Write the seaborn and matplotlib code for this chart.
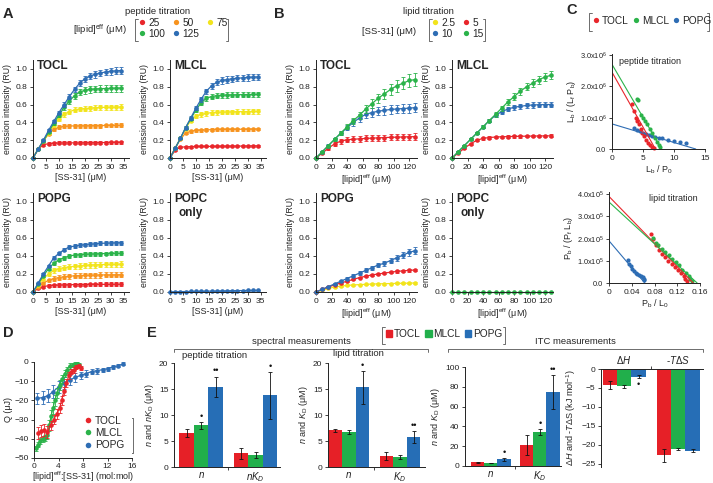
import numpy as np
import pandas as pd
import matplotlib
matplotlib.use('Agg')
import matplotlib.pyplot as plt
import seaborn as sns
from matplotlib.lines import Line2D
from matplotlib.patches import Patch
from matplotlib.container import BarContainer
from matplotlib.ticker import FormatStrFormatter, FuncFormatter

# ------------------------------------------------------------------ DATA
# Panel A (peptide titration): x = [SS-31] (uM)
A_x = [0, 2, 4, 6, 8, 10, 12, 14, 16, 18, 20, 22, 24, 26, 28, 30, 32, 34]
A_levels = ['25', '50', '75', '100', '125']
A_TOCL = {
    '25':  [0, 0.10, 0.15, 0.16, 0.165, 0.17, 0.17, 0.17, 0.17, 0.17, 0.172, 0.172, 0.172, 0.173, 0.173, 0.174, 0.174, 0.175],
    '50':  [0, 0.10, 0.19, 0.27, 0.32, 0.345, 0.355, 0.36, 0.36, 0.362, 0.362, 0.363, 0.364, 0.364, 0.365, 0.365, 0.366, 0.366],
    '75':  [0, 0.10, 0.19, 0.28, 0.37, 0.44, 0.49, 0.52, 0.54, 0.55, 0.555, 0.56, 0.565, 0.567, 0.569, 0.57, 0.571, 0.572],
    '100': [0, 0.10, 0.19, 0.29, 0.39, 0.48, 0.57, 0.64, 0.70, 0.74, 0.76, 0.77, 0.775, 0.778, 0.78, 0.782, 0.784, 0.785],
    '125': [0, 0.10, 0.20, 0.31, 0.41, 0.51, 0.60, 0.69, 0.77, 0.84, 0.89, 0.92, 0.94, 0.955, 0.965, 0.973, 0.978, 0.982],
}
A_MLCL = {
    '25':  [0, 0.09, 0.12, 0.125, 0.128, 0.13, 0.13, 0.13, 0.13, 0.131, 0.132, 0.132, 0.133, 0.133, 0.134, 0.134, 0.135, 0.135],
    '50':  [0, 0.11, 0.21, 0.28, 0.30, 0.31, 0.313, 0.316, 0.318, 0.32, 0.32, 0.321, 0.322, 0.322, 0.323, 0.323, 0.324, 0.325],
    '75':  [0, 0.11, 0.22, 0.33, 0.42, 0.47, 0.49, 0.50, 0.51, 0.513, 0.515, 0.517, 0.518, 0.52, 0.52, 0.521, 0.522, 0.523],
    '100': [0, 0.11, 0.22, 0.34, 0.44, 0.54, 0.62, 0.67, 0.69, 0.70, 0.705, 0.707, 0.709, 0.71, 0.711, 0.712, 0.713, 0.714],
    '125': [0, 0.11, 0.22, 0.34, 0.45, 0.56, 0.66, 0.75, 0.81, 0.85, 0.87, 0.88, 0.89, 0.895, 0.90, 0.905, 0.908, 0.91],
}
A_POPG = {
    '25':  [0, 0.04, 0.06, 0.07, 0.075, 0.078, 0.08, 0.081, 0.082, 0.083, 0.083, 0.084, 0.084, 0.085, 0.085, 0.085, 0.086, 0.086],
    '50':  [0, 0.06, 0.10, 0.13, 0.15, 0.16, 0.17, 0.175, 0.18, 0.182, 0.185, 0.187, 0.188, 0.189, 0.19, 0.19, 0.191, 0.192],
    '75':  [0, 0.08, 0.15, 0.20, 0.24, 0.26, 0.27, 0.28, 0.285, 0.29, 0.295, 0.30, 0.302, 0.304, 0.306, 0.307, 0.308, 0.309],
    '100': [0, 0.09, 0.18, 0.26, 0.32, 0.36, 0.38, 0.40, 0.41, 0.415, 0.42, 0.422, 0.424, 0.426, 0.427, 0.428, 0.429, 0.43],
    '125': [0, 0.10, 0.20, 0.29, 0.38, 0.43, 0.47, 0.50, 0.51, 0.52, 0.527, 0.532, 0.536, 0.54, 0.543, 0.545, 0.547, 0.548],
}
A_POPC = {
    '125': [0, 0.002, 0.004, 0.005, 0.006, 0.007, 0.008, 0.009, 0.010, 0.011, 0.012, 0.013, 0.014, 0.015, 0.016, 0.017, 0.018, 0.019],
}
A_err = {'TOCL': {'25': 0.10, '50': 0.06, '75': 0.05, '100': 0.05, '125': 0.04},
         'MLCL': {'25': 0.08, '50': 0.05, '75': 0.05, '100': 0.04, '125': 0.04},
         'POPG': {'25': 0.25, '50': 0.15, '75': 0.10, '100': 0.05, '125': 0.04},
         'POPC': {'125': 0.2}}

# Panel B (lipid titration): x = [lipid]eff (uM)
B_x = [0, 8, 16, 24, 32, 40, 48, 56, 64, 72, 80, 88, 96, 104, 112, 120, 128]
B_TOCL = {
    '5':  [0, 0.055, 0.11, 0.16, 0.19, 0.205, 0.21, 0.215, 0.22, 0.223, 0.226, 0.229, 0.232, 0.234, 0.236, 0.238, 0.24],
    '10': [0, 0.07, 0.14, 0.21, 0.28, 0.34, 0.40, 0.45, 0.49, 0.51, 0.525, 0.535, 0.545, 0.55, 0.555, 0.56, 0.565],
    '15': [0, 0.07, 0.14, 0.21, 0.28, 0.35, 0.42, 0.48, 0.55, 0.61, 0.67, 0.72, 0.77, 0.81, 0.84, 0.87, 0.88],
}
B_MLCL = {
    '5':  [0, 0.055, 0.11, 0.16, 0.20, 0.22, 0.23, 0.235, 0.238, 0.24, 0.242, 0.244, 0.245, 0.246, 0.247, 0.248, 0.249],
    '10': [0, 0.07, 0.14, 0.21, 0.28, 0.35, 0.42, 0.48, 0.52, 0.55, 0.57, 0.58, 0.59, 0.595, 0.598, 0.60, 0.60],
    '15': [0, 0.07, 0.14, 0.21, 0.28, 0.35, 0.42, 0.49, 0.56, 0.63, 0.69, 0.75, 0.80, 0.84, 0.88, 0.91, 0.93],
}
B_POPG = {
    '2.5': [0, 0.02, 0.04, 0.055, 0.065, 0.073, 0.078, 0.082, 0.085, 0.088, 0.09, 0.092, 0.094, 0.096, 0.097, 0.098, 0.10],
    '5':   [0, 0.03, 0.055, 0.08, 0.10, 0.12, 0.14, 0.16, 0.175, 0.19, 0.20, 0.21, 0.22, 0.228, 0.235, 0.24, 0.245],
    '10':  [0, 0.03, 0.06, 0.09, 0.12, 0.15, 0.18, 0.21, 0.24, 0.27, 0.30, 0.32, 0.35, 0.38, 0.41, 0.44, 0.46],
}
B_POPC = {
    '15': [0, 0, 0, 0, 0, 0, 0, 0, 0, 0, 0, 0, 0, 0, 0, 0, 0],
}
B_err = {'TOCL': {'5': 0.15, '10': 0.09, '15': 0.08},
         'MLCL': {'5': 0.06, '10': 0.05, '15': 0.05},
         'POPG': {'2.5': 0.1, '5': 0.06, '10': 0.09},
         'POPC': {'15': 0.0}}

# Panel C: Scatchard plots
Cp_TOCL_x = [3.3, 3.6, 3.9, 4.1, 4.3, 4.6, 4.9, 5.2, 5.5, 5.8, 6.1, 6.4, 6.7]
Cp_TOCL_y = [1.42e6, 1.2e6, 1.0e6, 0.9e6, 0.8e6, 0.65e6, 0.52e6, 0.4e6, 0.3e6, 0.2e6, 0.12e6, 0.06e6, 0.02e6]
Cp_MLCL_x = [4.0, 4.2, 4.6, 5.0, 5.3, 5.7, 6.1, 6.5, 6.9, 7.3, 7.6, 7.8]
Cp_MLCL_y = [1.6e6, 1.55e6, 1.1e6, 1.0e6, 0.9e6, 0.8e6, 0.65e6, 0.5e6, 0.35e6, 0.22e6, 0.12e6, 0.05e6]
Cp_POPG_x = [3.5, 4.0, 4.5, 5.0, 5.5, 6.0, 6.5, 7.0, 7.5, 8.0, 9.0, 10.0, 11.0, 12.0]
Cp_POPG_y = [0.68e6, 0.62e6, 0.57e6, 0.52e6, 0.47e6, 0.44e6, 0.42e6, 0.39e6, 0.36e6, 0.34e6, 0.3e6, 0.27e6, 0.22e6, 0.18e6]
Cp_fit = {'TOCL': (2.45e6, 7.0), 'MLCL': (2.7e6, 8.0), 'POPG': (0.8e6, 13.5)}

Cl_TOCL_x = [0.074, 0.078, 0.083, 0.088, 0.093, 0.098, 0.104, 0.110, 0.116, 0.122, 0.127, 0.131, 0.134, 0.137]
Cl_TOCL_y = [2.2e5, 2.0e5, 1.7e5, 1.5e5, 1.3e5, 1.15e5, 1.0e5, 0.85e5, 0.72e5, 0.6e5, 0.45e5, 0.3e5, 0.2e5, 0.1e5]
Cl_MLCL_x = [0.078, 0.082, 0.087, 0.093, 0.099, 0.105, 0.111, 0.117, 0.123, 0.129, 0.135, 0.140, 0.143, 0.146]
Cl_MLCL_y = [2.05e5, 1.8e5, 1.7e5, 1.55e5, 1.4e5, 1.25e5, 1.1e5, 0.95e5, 0.8e5, 0.6e5, 0.45e5, 0.3e5, 0.2e5, 0.1e5]
Cl_POPG_x = [0.034, 0.036, 0.038, 0.041, 0.044, 0.047, 0.050, 0.053, 0.056, 0.059, 0.061, 0.062]
Cl_POPG_y = [1.05e5, 0.85e5, 0.75e5, 0.65e5, 0.55e5, 0.45e5, 0.4e5, 0.35e5, 0.3e5, 0.25e5, 0.2e5, 0.15e5]
Cl_fit = {'TOCL': (3.9e5, 0.148), 'MLCL': (3.65e5, 0.155), 'POPG': (1.9e5, 0.063)}

# Panel D: ITC
D_TOCL_x = [0.7, 1.2, 1.7, 2.2, 2.7, 3.2, 3.7, 4.2, 4.5, 4.9, 5.3, 5.7, 6.1, 6.5, 6.9, 7.3, 7.6]
D_TOCL_y = [-37, -36, -35.5, -36.5, -33, -30, -27, -24, -20, -15, -11, -7, -5, -4, -2.5, -2, -3]
D_TOCL_e = [3, 3, 3, 3, 2.5, 2.5, 2.5, 2.5, 2.5, 2, 2, 2, 1.5, 1.5, 1, 1, 1]
D_MLCL_x = [0.3, 0.6, 1.0, 1.4, 1.8, 2.2, 2.5, 2.8, 3.1, 3.4, 3.8, 4.2, 4.6, 5.0, 5.4, 5.8, 6.3, 6.7, 7.1, 7.4]
D_MLCL_y = [-45, -43, -41, -40, -39.5, -38, -33, -28, -24, -20, -16, -12, -9, -6, -4, -2, -1.5, -1, -0.5, -1.5]
D_MLCL_e = [1.5, 1.5, 1.5, 1.5, 1.5, 2, 3, 3, 3, 3, 2.5, 2.5, 2, 2, 1.5, 1.5, 1, 1, 1, 1]
D_POPG_x = [0.5, 1.4, 2.3, 3.1, 4.0, 4.9, 5.8, 6.7, 7.6, 8.5, 9.4, 10.3, 11.2, 12.0, 12.9, 13.7, 14.5]
D_POPG_y = [-19, -18.5, -17.5, -15.5, -13, -11, -9.5, -8, -7, -6, -5, -4.5, -4, -3.5, -2.5, -2, -1]
D_POPG_e = [3, 3.5, 3.5, 3.5, 3, 3, 2.5, 2.5, 2, 2, 1.5, 1.5, 1, 1, 1, 0.8, 0.8]

# Panel E: bar charts
E_lipids = ['TOCL', 'MLCL', 'POPG']
E_pep_n = [6.5, 8.0, 15.4];     E_pep_n_err = [0.8, 0.7, 2.0]
E_pep_nKD = [2.6, 2.3, 13.8];   E_pep_nKD_err = [1.0, 0.6, 4.5]
E_lip_n = [7.1, 6.7, 15.3];     E_lip_n_err = [0.3, 0.4, 3.2]
E_lip_KD = [2.1, 2.0, 5.8];     E_lip_KD_err = [0.8, 0.4, 1.1]
E_itc_n = [4.0, 3.0, 7.0];      E_itc_n_err = [0.5, 0.3, 1.5]
E_itc_KD = [21, 34, 75];        E_itc_KD_err = [10, 3, 17]
E_dH = [-4.2, -4.6, -2.0];      E_dH_err = [1.0, 0.3, 0.4]
E_TdS = [-22.7, -21.0, -21.5];  E_TdS_err = [1.7, 0.3, 0.4]

# ------------------------------------------------------------------ STYLE
W, H = 713, 483
sns.set_theme(style='ticks')
plt.rcParams['font.family'] = ['Liberation Sans', 'DejaVu Sans']
plt.rcParams['mathtext.fontset'] = 'custom'
plt.rcParams['mathtext.rm'] = 'Liberation Sans'
plt.rcParams['mathtext.it'] = 'Liberation Sans:italic'
plt.rcParams['mathtext.bf'] = 'Liberation Sans:bold'
plt.rcParams['axes.linewidth'] = 0.7
plt.rcParams['xtick.major.width'] = 0.6
plt.rcParams['ytick.major.width'] = 0.6
plt.rcParams['xtick.major.size'] = 2.5
plt.rcParams['ytick.major.size'] = 2.5
plt.rcParams['axes.edgecolor'] = '#222222'

RED, ORANGE, YELLOW, GREEN, BLUE = '#e8262b', '#f7931e', '#f2e41c', '#2bb34a', '#2e6db4'
A_col = {'25': RED, '50': ORANGE, '75': YELLOW, '100': GREEN, '125': BLUE}
B_col = {'2.5': YELLOW, '5': RED, '10': BLUE, '15': GREEN}
L_col = {'TOCL': RED, 'MLCL': GREEN, 'POPG': BLUE}
TS, LS = 6.0, 6.5

fig = plt.figure(figsize=(W / 100, H / 100), dpi=100)


def add_ax(l, t, r, b):
    return fig.add_axes([l / W, 1 - b / H, (r - l) / W, (b - t) / H])


def base_style(ax):
    sns.despine(ax=ax)
    ax.tick_params(labelsize=TS, pad=1.5, colors='#222222')


def curve_panel(ax, x, series, colors, rel, order, xlim, xticks, xlabel, title):
    for k in order:
        if k not in series:
            continue
        y = np.array(series[k])
        ax.errorbar(x, y, yerr=rel[k] * y, fmt='none', ecolor=colors[k],
                    elinewidth=0.6, capsize=1.2, capthick=0.6, clip_on=False)
        sns.lineplot(x=x, y=y, ax=ax, color=colors[k], marker='o', markersize=3.3,
                     markeredgewidth=0, linewidth=0.9, legend=False, clip_on=False)
    ax.set_xlim(*xlim)
    ax.set_ylim(0, 1.1)
    ax.set_xticks(xticks)
    ax.set_yticks([0, 0.2, 0.4, 0.6, 0.8, 1.0])
    ax.yaxis.set_major_formatter(FormatStrFormatter('%.1f'))
    ax.set_ylabel('emission intensity (RU)', fontsize=LS - 0.2, labelpad=2.5)
    ax.set_xlabel(xlabel, fontsize=LS, labelpad=1.5)
    base_style(ax)
    ax.text(0.04, 1.0, title, transform=ax.transAxes, ha='left', va='top',
            fontsize=8.5, fontweight='bold', multialignment='center')


# overlay for annotations
ov = fig.add_axes([0, 0, 1, 1], zorder=-1)
ov.set_xlim(0, W)
ov.set_ylim(H, 0)
ov.axis('off')

# ------------------------------------------------------------------ PANEL A
A_xt = [0, 5, 10, 15, 20, 25, 30, 35]
A_xlabel = '[SS-31] (μM)'
for (l, t, r, b), data, name, title in [
        ((33, 60, 129, 158), A_TOCL, 'TOCL', 'TOCL'),
        ((170, 60, 266, 158), A_MLCL, 'MLCL', 'MLCL'),
        ((33, 193, 129, 292), A_POPG, 'POPG', 'POPG'),
        ((170, 193, 266, 292), A_POPC, 'POPC', 'POPC\nonly')]:
    ax = add_ax(l, t, r, b)
    curve_panel(ax, A_x, data, A_col, A_err[name], A_levels, (0, 37), A_xt, A_xlabel, title)

# ------------------------------------------------------------------ PANEL B
B_xt = [0, 20, 40, 60, 80, 100, 120]
B_xlabel = '[lipid]$^{\\rm eff}$ (μM)'
B_order = ['2.5', '5', '10', '15']
for (l, t, r, b), data, name, title in [
        ((316, 60, 417, 158), B_TOCL, 'TOCL', 'TOCL'),
        ((452, 60, 553, 158), B_MLCL, 'MLCL', 'MLCL'),
        ((316, 193, 417, 292), B_POPG, 'POPG', 'POPG'),
        ((452, 193, 553, 292), B_POPC, 'POPC', 'POPC\nonly')]:
    ax = add_ax(l, t, r, b)
    curve_panel(ax, B_x, data, B_col, B_err[name], B_order, (0, 130), B_xt, B_xlabel, title)

# ------------------------------------------------------------------ PANEL C
def sci_fmt(exp):
    def f(v, pos):
        if v == 0:
            return '0.0'
        return '%.1fx10$^{%d}$' % (v / 10 ** exp, exp)
    return FuncFormatter(f)


axc1 = add_ax(612, 54, 705, 149)
for nm, xs, ys in [('POPG', Cp_POPG_x, Cp_POPG_y), ('TOCL', Cp_TOCL_x, Cp_TOCL_y), ('MLCL', Cp_MLCL_x, Cp_MLCL_y)]:
    yint, xint = Cp_fit[nm]
    sns.lineplot(x=[0, xint], y=[yint, 0], ax=axc1, color=L_col[nm], linewidth=0.8, legend=False)
    sns.scatterplot(x=xs, y=ys, ax=axc1, color=L_col[nm], s=9, linewidth=0, legend=False, clip_on=False)
axc1.set_xlim(0, 15)
axc1.set_ylim(0, 3.03e6)
axc1.set_xticks([0, 5, 10, 15])
axc1.set_yticks([0, 1e6, 2e6, 3e6])
axc1.yaxis.set_major_formatter(sci_fmt(6))
axc1.set_xlabel('L$_{\\rm b}$ / P$_{\\rm 0}$', fontsize=LS, labelpad=1.5)
axc1.set_ylabel('L$_{\\rm b}$ / (L$_{\\rm f}$ P$_{\\rm b}$)', fontsize=LS, labelpad=1)
base_style(axc1)
axc1.tick_params(axis='y', labelsize=5.3)
axc1.text(0.07, 0.97, 'peptide titration', transform=axc1.transAxes, fontsize=LS, va='top')

axc2 = add_ax(609, 192, 700, 283)
for nm, xs, ys in [('POPG', Cl_POPG_x, Cl_POPG_y), ('TOCL', Cl_TOCL_x, Cl_TOCL_y), ('MLCL', Cl_MLCL_x, Cl_MLCL_y)]:
    yint, xint = Cl_fit[nm]
    sns.lineplot(x=[0, xint], y=[yint, 0], ax=axc2, color=L_col[nm], linewidth=0.8, legend=False)
    sns.scatterplot(x=xs, y=ys, ax=axc2, color=L_col[nm], s=9, linewidth=0, legend=False, clip_on=False)
axc2.set_xlim(0, 0.16)
axc2.set_ylim(0, 4.1e5)
axc2.set_xticks([0, 0.04, 0.08, 0.12, 0.16])
axc2.set_xticklabels(['0', '0.04', '0.08', '0.12', '0.16'])
axc2.set_yticks([0, 1e5, 2e5, 3e5, 4e5])
axc2.yaxis.set_major_formatter(sci_fmt(5))
axc2.set_xlabel('P$_{\\rm b}$ / L$_{\\rm 0}$', fontsize=LS, labelpad=1.5)
axc2.set_ylabel('P$_{\\rm b}$ / (P$_{\\rm f}$ L$_{\\rm b}$)', fontsize=LS, labelpad=1)
base_style(axc2)
axc2.tick_params(axis='y', labelsize=5.3)
axc2.text(0.44, 0.98, 'lipid titration', transform=axc2.transAxes, fontsize=LS, va='top')

# ------------------------------------------------------------------ PANEL D
axd = add_ax(34, 362, 132, 458)
for nm, xs, ys, es in [('POPG', D_POPG_x, D_POPG_y, D_POPG_e),
                       ('MLCL', D_MLCL_x, D_MLCL_y, D_MLCL_e),
                       ('TOCL', D_TOCL_x, D_TOCL_y, D_TOCL_e)]:
    axd.errorbar(xs, ys, yerr=es, fmt='none', ecolor=L_col[nm], elinewidth=0.6,
                 capsize=1.2, capthick=0.6)
    sns.lineplot(x=xs, y=ys, ax=axd, color=L_col[nm], marker='o', markersize=3.3,
                 markeredgewidth=0, linewidth=0.9, legend=False, sort=False)
axd.set_xlim(0, 16)
axd.set_ylim(-50, 0)
axd.set_xticks([0, 4, 8, 12, 16])
axd.set_yticks([0, -10, -20, -30, -40, -50])
axd.set_xlabel('[lipid]$^{\\rm eff}$:[SS-31] (mol:mol)', fontsize=LS, labelpad=0)
axd.set_ylabel('Q (μJ)', fontsize=LS, labelpad=1)
base_style(axd)
axd.tick_params(axis='x', pad=1)
axd.legend(handles=[Line2D([], [], marker='o', ls='none', color=L_col[n], markersize=4, markeredgewidth=0) for n in E_lipids],
           labels=E_lipids, loc='lower right', bbox_to_anchor=(0.97, 0.03), frameon=False,
           fontsize=LS + 0.8, handlelength=0.6, handletextpad=0.35, labelspacing=0.2, borderpad=0)

# ------------------------------------------------------------------ PANEL E
E_pal = {'TOCL': '#e62027', 'MLCL': '#21af4b', 'POPG': '#266eb6'}


def bar_panel(ax, cats, vals, errs, stars, xlim, ylim):
    rows = []
    for ci, c in enumerate(cats):
        for li, lp in enumerate(E_lipids):
            rows.append({'param': c, 'lipid': lp, 'value': vals[ci][li]})
    df = pd.DataFrame(rows)
    sns.barplot(data=df, x='param', y='value', hue='lipid', hue_order=E_lipids,
                palette=E_pal, ax=ax, saturation=1, linewidth=0, errorbar=None,
                legend=False, order=cats)
    bar_conts = [c for c in ax.containers if isinstance(c, BarContainer)]
    span = ylim[1] - ylim[0]
    for li, cont in enumerate(bar_conts):
        xs = [p.get_x() + p.get_width() / 2 for p in cont.patches]
        vs = [vals[ci][li] for ci in range(len(cats))]
        es = [errs[ci][li] for ci in range(len(cats))]
        ax.errorbar(xs, vs, yerr=es, fmt='none', ecolor='#111111', elinewidth=0.6,
                    capsize=1.5, capthick=0.6)
        for ci in range(len(cats)):
            s = stars.get((ci, li))
            if s:
                if vs[ci] >= 0:
                    ax.text(xs[ci], vs[ci] + es[ci] + 0.01 * span, s, ha='center',
                            va='bottom', fontsize=6.5, color='#111111')
                else:
                    ax.text(xs[ci], vs[ci] - es[ci] - 0.02 * span, s, ha='center',
                            va='top', fontsize=6.5, color='#111111')
    ax.set_xlim(*xlim)
    ax.set_ylim(*ylim)
    ax.set_xlabel('')
    ax.set_ylabel('')
    base_style(ax)
    ax.set_xticks([0.5], minor=True)
    ax.tick_params(axis='x', which='major', length=0, pad=2)
    ax.tick_params(axis='x', which='minor', length=2.5, width=0.6)


axe1 = add_ax(174, 363, 280, 467)
bar_panel(axe1, ['n', 'nKD'], [E_pep_n, E_pep_nKD], [E_pep_n_err, E_pep_nKD_err],
          {(0, 1): '•', (0, 2): '••', (1, 2): '•'}, (-0.5, 1.45), (0, 20))
axe1.set_xticks([0, 1])
axe1.set_xticklabels(['$n$', '$nK_D$'], fontsize=LS + 0.5)
axe1.set_yticks([0, 5, 10, 15, 20])
axe1.set_ylabel('$n$ and $nK_{\\rm D}$ (μM)', fontsize=LS, labelpad=2)
axe1.text(0.08, 1.03, 'peptide titration', transform=axe1.transAxes, fontsize=LS + 0.3, va='bottom')

axe2 = add_ax(328, 363, 425, 467)
bar_panel(axe2, ['n', 'KD'], [E_lip_n, E_lip_KD], [E_lip_n_err, E_lip_KD_err],
          {(0, 2): '•', (1, 2): '••'}, (-0.41, 1.49), (0, 20))
axe2.set_xticks([0, 1])
axe2.set_xticklabels(['$n$', '$K_D$'], fontsize=LS + 0.5)
axe2.set_yticks([0, 5, 10, 15, 20])
axe2.set_ylabel('$n$ and $K_{\\rm D}$ (μM)', fontsize=LS, labelpad=2)
axe2.text(0.05, 1.045, 'lipid titration', transform=axe2.transAxes, fontsize=LS + 0.3, va='bottom')

axe3 = add_ax(465, 367, 561, 466)
bar_panel(axe3, ['n', 'KD'], [E_itc_n, E_itc_KD], [E_itc_n_err, E_itc_KD_err],
          {(0, 2): '•', (1, 1): '•', (1, 2): '••'}, (-0.53, 1.43), (0, 100))
axe3.set_xticks([0, 1])
axe3.set_xticklabels(['$n$', '$K_D$'], fontsize=LS + 0.5)
axe3.set_yticks([0, 20, 40, 60, 80, 100])
axe3.set_ylabel('$n$ and $K_{\\rm D}$ (μM)', fontsize=LS, labelpad=2)

axe4 = add_ax(601, 369, 703, 467)
bar_panel(axe4, ['dH', 'TdS'], [E_dH, E_TdS], [E_dH_err, E_TdS_err],
          {(0, 2): '•'}, (-0.43, 1.46), (-25.8, 0))
sns.despine(ax=axe4, top=False, bottom=True, right=True)
axe4.xaxis.tick_top()
axe4.set_xticks([0, 1])
axe4.set_xticklabels(['$\\Delta H$', '-$T\\Delta S$'], fontsize=LS + 0.5)
axe4.set_xticks([0.5], minor=True)
axe4.tick_params(axis='x', which='major', length=0, pad=2)
axe4.tick_params(axis='x', which='minor', length=2.5, width=0.6, top=True, bottom=False)
axe4.set_yticks([0, -5, -10, -15, -20, -25])
axe4.set_ylabel('$\\Delta H$ and -$T\\Delta$S (kJ mol$^{-1}$)', fontsize=LS, labelpad=2)

# ------------------------------------------------------------------ LEGENDS
def dot(c):
    return Line2D([], [], marker='o', ls='none', color=c, markersize=3.8, markeredgewidth=0)


leg_kw = dict(loc='upper left', frameon=False, fontsize=LS + 0.8, handlelength=0.6,
              handletextpad=0.3, borderpad=0, borderaxespad=0, labelspacing=0.05)
a_order = ['25', '100', '50', '125', '75']
fig.legend([dot(A_col[k]) for k in a_order], a_order, bbox_to_anchor=(139 / W, 1 - 18 / H),
           ncol=3, columnspacing=0.8, **leg_kw)
b_order = ['2.5', '10', '5', '15']
fig.legend([dot(B_col[k]) for k in b_order], b_order, bbox_to_anchor=(432 / W, 1 - 18 / H),
           ncol=2, columnspacing=0.8, **leg_kw)
fig.legend([dot(L_col[k]) for k in E_lipids], E_lipids, bbox_to_anchor=(593 / W, 1 - 16 / H),
           ncol=3, columnspacing=0.4, **leg_kw)
fig.legend([Patch(color=E_pal[k]) for k in E_lipids], E_lipids, bbox_to_anchor=(386 / W, 1 - 329 / H),
           ncol=3, columnspacing=0.45, handleheight=0.6, **dict(leg_kw, handletextpad=0.2))

# ------------------------------------------------------------------ ANNOTATIONS
BR = '#555555'


def bracket(x0, x1, y0, y1, t=2.5):
    ov.plot([x0 + t, x0, x0, x0 + t], [y0, y0, y1, y1], color=BR, lw=0.6)
    ov.plot([x1 - t, x1, x1, x1 - t], [y0, y0, y1, y1], color=BR, lw=0.6)


def hbracket(x0, x1, y, t=3):
    ov.plot([x0, x0, x1, x1], [y + t, y, y, y + t], color=BR, lw=0.6)


for lab, x, y in [('A', 3, 14), ('B', 274, 14), ('C', 566, 10), ('D', 3, 333), ('E', 147, 333)]:
    ov.text(x, y, lab, fontsize=10.5, fontweight='bold', va='center', ha='left')

ov.text(158, 12, 'peptide titration', fontsize=LS + 0.3, ha='center', va='center')
ov.text(127, 30, '[lipid]$^{\\rm eff}$ (μM)', fontsize=LS + 0.3, ha='right', va='center')
bracket(135, 228, 19, 41)
ov.text(428, 12, 'lipid titration', fontsize=LS + 0.3, ha='center', va='center')
ov.text(416, 32, '[SS-31] (μM)', fontsize=LS + 0.3, ha='right', va='center')
bracket(429, 485, 19, 41)
bracket(589, 709, 13, 31)

bracket(382, 505, 327, 344)
hbracket(174, 428, 349)
ov.text(301, 342, 'spectral measurements', fontsize=LS + 0.3, ha='center', va='center')
hbracket(448, 703, 349)
ov.text(575, 342, 'ITC measurements', fontsize=LS + 0.3, ha='center', va='center')
bracket(90, 133, 418, 453)

fig.savefig('out.png', dpi=100)
